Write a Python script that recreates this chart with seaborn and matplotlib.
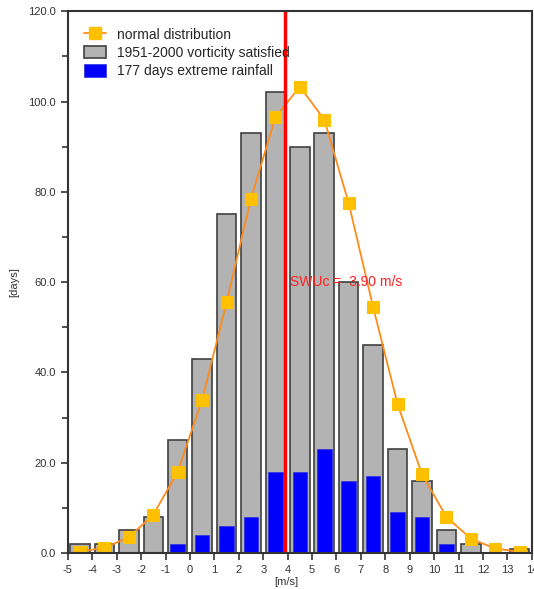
import numpy as np
import pandas as pd
import seaborn as sns
import matplotlib.pyplot as plt
from matplotlib.lines import Line2D
from matplotlib.patches import Patch
from matplotlib.ticker import MultipleLocator

# bin centres [m/s]
centers = [-4.5, -3.5, -2.5, -1.5, -0.5, 0.5, 1.5, 2.5, 3.5, 4.5,
           5.5, 6.5, 7.5, 8.5, 9.5, 10.5, 11.5, 12.5, 13.5]
# 1951-2000 days where vorticity is satisfied
vort_days = [2, 2, 5, 8, 25, 43, 75, 93, 102, 90,
             93, 60, 46, 23, 16, 5, 2, 0, 1]
# extreme rainfall days
rain_days = [0, 0, 0, 0, 2, 4, 6, 8, 18, 18,
             23, 16, 17, 9, 8, 2, 0, 0, 0]
# fitted normal distribution
normal_fit = [0.3, 1.2, 3.5, 8.5, 18.0, 34.0, 55.5, 78.5, 96.5, 103.3,
              96.0, 77.5, 54.5, 33.0, 17.5, 8.0, 3.2, 1.0, 0.3]
swuc = 3.90

df = pd.DataFrame({"x": centers, "vort": vort_days, "rain": rain_days, "norm": normal_fit})

sns.set_style("white")
plt.rcParams["font.family"] = ["Liberation Sans", "DejaVu Sans"]
plt.rcParams["axes.unicode_minus"] = False

fig = plt.figure(figsize=(5.34, 5.89), dpi=100)
ax = fig.add_axes([0.127, 0.061, 0.869, 0.920])

sns.barplot(data=df, x="x", y="vort", native_scale=True, width=0.8,
            color="#b3b3b3", saturation=1, edgecolor="#404040", linewidth=1.2, ax=ax)
sns.barplot(data=df, x="x", y="rain", native_scale=True, width=0.6,
            color="#0000ff", saturation=1, edgecolor="#3030e0", linewidth=0.5, ax=ax)
sns.lineplot(data=df, x="x", y="norm", color="#ff8c1a", lw=1.3, marker="s",
             markersize=8.5, markerfacecolor="#ffc000", markeredgecolor="#ffc000", ax=ax)

ax.axvline(swuc, color="#ff0000", lw=2.5)
ax.text(swuc + 0.2, 60, "SWUc =  %.2f m/s" % swuc, color="#ff2020", fontsize=10, va="center")

ax.set_xlim(-5, 14)
ax.set_ylim(0, 120)
ax.xaxis.set_major_locator(MultipleLocator(1))
ax.yaxis.set_major_locator(MultipleLocator(20))
ax.yaxis.set_minor_locator(MultipleLocator(10))
ax.yaxis.set_major_formatter(plt.FormatStrFormatter("%.1f"))
ax.tick_params(axis="both", which="both", direction="out", length=5, width=1.2,
               colors="#333333", labelsize=8, left=True, bottom=True)
ax.tick_params(axis="y", which="minor", length=4)
for s in ax.spines.values():
    s.set_color("#333333")
    s.set_linewidth(1.5)

ax.set_xlabel("[m/s]", fontsize=8, color="#333333", labelpad=1)
ax.xaxis.set_label_coords(0.47, -0.045)
ax.set_ylabel("[days]", fontsize=8, color="#333333")
ax.yaxis.set_label_coords(-0.105, 0.5)

handles = [
    Line2D([], [], color="#ff8c1a", lw=1.3, marker="s", markersize=8.5,
           markerfacecolor="#ffc000", markeredgecolor="#ffc000"),
    Patch(facecolor="#b3b3b3", edgecolor="#404040", lw=1.2),
    Patch(facecolor="#0000ff", edgecolor="#3030e0", lw=0.5),
]
labels = ["normal distribution", "1951-2000 vorticity satisfied", "177 days extreme rainfall"]
ax.legend(handles, labels, loc="upper left", frameon=False, fontsize=10,
          handlelength=1.6, handleheight=1.0, handletextpad=0.8, labelspacing=0.3,
          borderaxespad=0.4, bbox_to_anchor=(0.01, 0.99))

fig.savefig("out.png", dpi=100)
